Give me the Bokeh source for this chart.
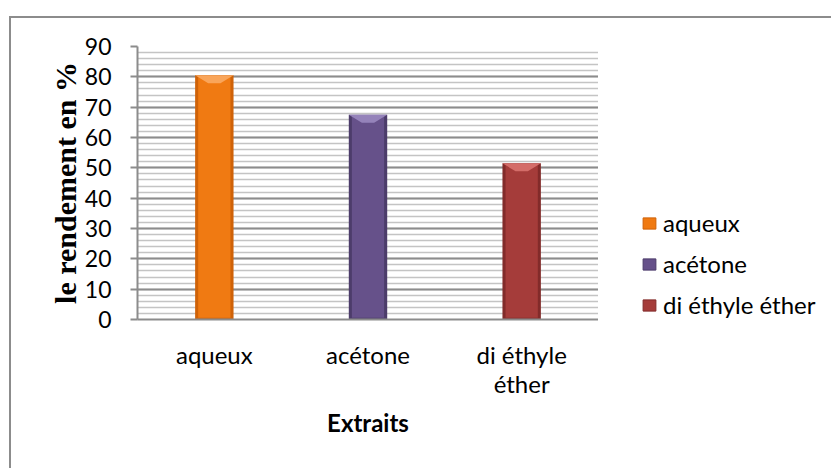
from bokeh.plotting import figure
from bokeh.layouts import row
from bokeh.models import Range1d, SingleIntervalTicker, FixedTicker, Legend, LegendItem
from bokeh.embed import file_html
from bokeh.resources import INLINE

# ---- data ----
categories = ["aqueux", "acétone", "di éthyle éther"]
tick_labels = ["aqueux", "acétone", "di éthyle\néther"]
values = [80.5, 67.5, 51.5]
main_colors = ["#F07A12", "#66518A", "#A53C3A"]
edge_colors = ["#CF6208", "#4C3C6A", "#822B2A"]
cap_colors = ["#F9A55A", "#9583BA", "#D46D69"]

y_title = "le rendement en %"
x_title = "Extraits"

W1, W2, H = 587, 233, 450
p = figure(width=W1, height=H, output_backend="svg", toolbar_location=None,
           x_range=Range1d(0, len(categories)), y_range=Range1d(0, 90),
           min_border_left=126, min_border_top=28, min_border_right=0,
           min_border_bottom=H - 301)
p.outline_line_color = None
p.background_fill_color = "white"
p.border_fill_color = "white"

xs = [i + 0.5 for i in range(len(categories))]
bw = 0.25
inner = 0.21
cap_w = 0.08
cap_d = 2.6

for i in range(len(categories)):
    p.vbar(x=[xs[i]], top=[values[i]], bottom=0, width=bw,
           fill_color=edge_colors[i], line_color=None)
    p.vbar(x=[xs[i]], top=[values[i] - 0.3], bottom=0.6, width=inner,
           fill_color=main_colors[i], line_color=None)
    p.patch(x=[xs[i] - bw / 2, xs[i] + bw / 2, xs[i] + cap_w / 2, xs[i] - cap_w / 2],
            y=[values[i], values[i], values[i] - cap_d, values[i] - cap_d],
            fill_color=cap_colors[i], line_color=None)

# axes
yax = p.yaxis[0]
yax.ticker = SingleIntervalTicker(interval=10, num_minor_ticks=5)
yax.axis_line_color = "#8C8C8C"
yax.axis_line_width = 2
yax.major_tick_line_color = "#8C8C8C"
yax.major_tick_line_width = 2
yax.major_tick_out = 7
yax.major_tick_in = 0
yax.minor_tick_line_color = None
yax.major_label_text_font = "Lato"
yax.major_label_text_font_size = "23px"
yax.major_label_text_color = "black"
yax.major_label_standoff = 19
yax.axis_label = y_title
yax.axis_label_text_font = "Liberation Serif"
yax.axis_label_text_font_style = "bold"
yax.axis_label_text_font_size = "30px"
yax.axis_label_text_color = "black"
yax.axis_label_standoff = 0

xax = p.xaxis[0]
xax.ticker = FixedTicker(ticks=xs)
xax.major_label_overrides = {xs[i]: tick_labels[i] for i in range(len(xs))}
xax.axis_line_color = "#8C8C8C"
xax.axis_line_width = 2
xax.major_tick_line_color = None
xax.minor_tick_line_color = None
xax.major_label_text_font = "Lato"
xax.major_label_text_font_size = "24px"
xax.major_label_text_color = "black"
xax.major_label_text_line_height = 1.0
xax.major_label_standoff = 14
xax.axis_label = x_title
xax.axis_label_text_font = "Lato"
xax.axis_label_text_font_style = "bold"
xax.axis_label_text_font_size = "24px"
xax.axis_label_text_color = "black"
xax.axis_label_standoff = 7

p.xgrid.grid_line_color = None
p.ygrid.grid_line_color = "#8C8C8C"
p.ygrid.grid_line_width = 2
p.ygrid.minor_grid_line_color = "#C4C4C4"
p.ygrid.minor_grid_line_width = 1.5

# legend panel (separate figure; its swatches sit outside its visible range)
lg = figure(width=W2, height=H, output_backend="svg", toolbar_location=None,
            x_range=Range1d(-10, -9), y_range=Range1d(0, 90),
            min_border_left=43, min_border_right=0, min_border_top=28,
            min_border_bottom=H - 307, outline_line_color=None)
lg.axis.visible = False
lg.grid.visible = False
lg.background_fill_color = "white"
lg.border_fill_color = "white"
items = []
for i in range(len(categories)):
    r = lg.vbar(x=[xs[i]], top=[values[i]], bottom=0, width=bw,
                fill_color=main_colors[i], line_color=edge_colors[i], line_width=1)
    items.append(LegendItem(label=categories[i], renderers=[r]))

legend = Legend(items=items, location="bottom_left", orientation="vertical",
                border_line_color=None, background_fill_alpha=0,
                padding=0, margin=0, spacing=12,
                glyph_width=16, glyph_height=14, label_height=20,
                label_standoff=6, label_text_font="Lato",
                label_text_font_size="24px", label_text_color="black")
lg.add_layout(legend, "center")

layout = row(p, lg, spacing=0)
layout.margin = (16, 0, 0, 9)
layout.styles = {"border-left": "2px solid #8C8C8C", "border-top": "2px solid #8C8C8C"}

open("out.html", "w").write(file_html(layout, INLINE))
